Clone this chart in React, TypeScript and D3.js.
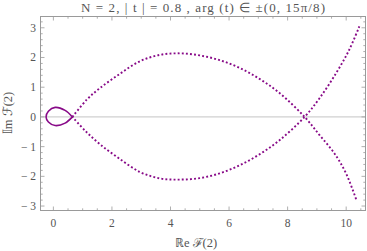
import React, { useEffect, useRef } from 'react';
import * as d3 from 'd3';

// (Re, Im) of F(2)
const branchA: [number, number][] = [
  [10.45, 3.05], [10.11, 2.27], [9.66, 1.48], [9.09, 0.63], [8.58, 0],
  [7.73, -0.78], [7.04, -1.26], [6.36, -1.63], [5.68, -1.9], [5.0, -2.06],
  [4.3, -2.11], [3.64, -2.07], [2.95, -1.85], [2.22, -1.38], [1.59, -0.92],
  [1.08, -0.46], [0.65, 0],
];

const branchB: [number, number][] = [
  [0.65, 0], [1.14, 0.58], [1.59, 0.97], [2.27, 1.45], [2.95, 1.87],
  [3.64, 2.09], [4.32, 2.14], [5.0, 2.07], [5.68, 1.91], [6.36, 1.65],
  [7.04, 1.28], [7.73, 0.8], [8.58, 0], [9.09, -0.61], [9.6, -1.23],
  [10.0, -1.91], [10.36, -2.83],
];

const loopPts: [number, number][] = [
  [0.65, 0], [0.4, 0.22], [0.06, 0.32], [-0.17, 0.19], [-0.25, 0],
  [-0.17, -0.17], [0.06, -0.29], [0.4, -0.21], [0.65, 0],
];

const xMajor = [0, 2, 4, 6, 8, 10];
const yMajor = [-3, -2, -1, 0, 1, 2, 3];

const App: React.FC = () => {
  const svgRef = useRef<SVGSVGElement>(null);

  useEffect(() => {
    document.body.style.margin = '0';
    if (!svgRef.current) return;
    const W = 367;
    const H = 251;
    const left = 40.5, right = 365.5, top = 16.5, bottom = 210.5;

    const svg = d3.select(svgRef.current);
    svg.selectAll('*').remove();
    svg.attr('width', W).attr('height', H);

    const x = d3.scaleLinear().domain([-0.44, 10.66]).range([left, right]);
    const y = d3.scaleLinear().domain([-3.15, 3.38]).range([bottom, top]);

    const frameColor = '#9a9a9a';
    const labelColor = '#555';

    // zero axis
    svg.append('line')
      .attr('x1', left).attr('x2', right)
      .attr('y1', y(0)).attr('y2', y(0))
      .attr('stroke', '#c4c4c4').attr('stroke-width', 1);

    // frame
    svg.append('rect')
      .attr('x', left).attr('y', top)
      .attr('width', right - left).attr('height', bottom - top)
      .attr('fill', 'none').attr('stroke', frameColor).attr('stroke-width', 1);

    // ticks
    const xMinor = d3.range(-0.0, 10.51, 0.5).filter(v => !xMajor.includes(v));
    const yMinor = d3.range(-3.0, 3.21, 0.2).map(v => Math.round(v * 10) / 10)
      .filter(v => !yMajor.includes(v));
    const ticks = svg.append('g').attr('stroke', frameColor).attr('stroke-width', 0.8);
    const addX = (vals: number[], len: number) => {
      vals.forEach(v => {
        ticks.append('line').attr('x1', x(v)).attr('x2', x(v)).attr('y1', bottom).attr('y2', bottom - len);
        ticks.append('line').attr('x1', x(v)).attr('x2', x(v)).attr('y1', top).attr('y2', top + len);
      });
    };
    const addY = (vals: number[], len: number) => {
      vals.forEach(v => {
        ticks.append('line').attr('y1', y(v)).attr('y2', y(v)).attr('x1', left).attr('x2', left + len);
        ticks.append('line').attr('y1', y(v)).attr('y2', y(v)).attr('x1', right).attr('x2', right - len);
      });
    };
    addX(xMajor, 4);
    addX(xMinor, 2.2);
    addY(yMajor, 4);
    addY(yMinor, 2.2);

    const fontFam = 'Liberation Serif';

    svg.append('g').selectAll('text').data(xMajor).enter().append('text')
      .attr('x', d => x(d)).attr('y', 226.5)
      .attr('text-anchor', 'middle')
      .attr('font-family', fontFam).attr('font-size', 11.5).attr('fill', labelColor)
      .text(d => String(d));

    svg.append('g').selectAll('text').data(yMajor).enter().append('text')
      .attr('x', 36).attr('y', d => y(d) + 4)
      .attr('text-anchor', 'end')
      .attr('font-family', fontFam).attr('font-size', 11.5).attr('fill', labelColor)
      .text(d => (d < 0 ? '\u2212 ' + Math.abs(d) : String(d)));

    // title
    svg.append('text')
      .attr('x', 203).attr('y', 12)
      .attr('text-anchor', 'middle')
      .attr('font-family', fontFam).attr('font-size', 13).attr('fill', labelColor)
      .attr('textLength', 244).attr('lengthAdjust', 'spacing')
      .text('N = 2,  | t | = 0.8 ,  arg (t) \u2208 \u00b1(0, 15\u03c0/8)');

    // axis labels
    svg.append('text')
      .attr('x', 196).attr('y', 247)
      .attr('text-anchor', 'middle')
      .attr('font-family', fontFam).attr('font-size', 12.5).attr('fill', labelColor)
      .text('\u211de  \u2131(2)');

    svg.append('text')
      .attr('transform', 'translate(12,113) rotate(-90)')
      .attr('text-anchor', 'middle')
      .attr('font-family', fontFam).attr('font-size', 12.5).attr('fill', labelColor)
      .text('\ud835\udd40m  \u2131(2)');

    const line = d3.line<[number, number]>()
      .x(d => x(d[0]))
      .y(d => y(d[1]))
      .curve(d3.curveCatmullRom.alpha(0.5));

    const purple = '#880a88';
    [branchA, branchB].forEach(pts => {
      svg.append('path')
        .attr('d', line(pts) || '')
        .attr('fill', 'none')
        .attr('stroke', purple)
        .attr('stroke-width', 1.9)
        .attr('stroke-dasharray', '1.9 2.2');
    });

    svg.append('path')
      .attr('d', line(loopPts) || '')
      .attr('fill', 'none')
      .attr('stroke', purple)
      .attr('stroke-width', 1.6);
  }, []);

  return <svg ref={svgRef} style={{ display: 'block' }} />;
};

export default App;
